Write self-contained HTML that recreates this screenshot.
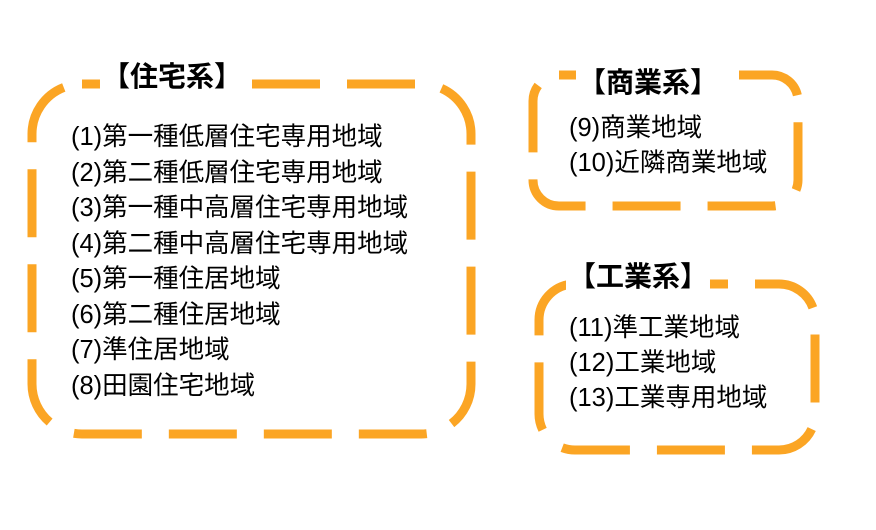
<!DOCTYPE html>
<html><head><meta charset="utf-8"><style>
html,body{margin:0;padding:0;background:#fff;}
body{width:876px;height:530px;position:relative;overflow:hidden;font-family:"Liberation Sans","Noto Sans CJK JP",sans-serif;color:#000;}
.t{position:absolute;font-size:25.5px;line-height:28px;white-space:nowrap;}
.h{position:absolute;font-size:28px;line-height:32px;font-weight:bold;white-space:nowrap;background:#fff;font-family:"Noto Sans CJK JP",sans-serif;padding:0 2px;transform:translateX(-50%);}
svg{position:absolute;left:0;top:0;}
</style></head><body>
<svg width="876" height="530">
<g fill="none" stroke="#FBA524" stroke-width="9" stroke-dasharray="68 27">
<rect x="32" y="84" width="439" height="350" rx="50" ry="50" stroke-dashoffset="20"/>
<rect x="533" y="75" width="265" height="131" rx="26" ry="26" stroke-dashoffset="10"/>
<rect x="539" y="284" width="276" height="166" rx="36" ry="36" stroke-dashoffset="10"/>
</g>
</svg>
<div class="h" style="left:172px;top:59px;">【住宅系】</div>
<div class="h" style="left:648px;top:65px;">【商業系】</div>
<div class="h" style="left:638px;top:259px;">【工業系】</div>

<div class="t" style="left:71px;top:123px;">(1)第一種低層住宅専用地域</div>
<div class="t" style="left:71px;top:159px;">(2)第二種低層住宅専用地域</div>
<div class="t" style="left:71px;top:194px;">(3)第一種中高層住宅専用地域</div>
<div class="t" style="left:71px;top:230px;">(4)第二種中高層住宅専用地域</div>
<div class="t" style="left:71px;top:265px;">(5)第一種住居地域</div>
<div class="t" style="left:71px;top:301px;">(6)第二種住居地域</div>
<div class="t" style="left:71px;top:336px;">(7)準住居地域</div>
<div class="t" style="left:71px;top:372px;">(8)田園住宅地域</div>

<div class="t" style="left:569px;top:114px;">(9)商業地域</div>
<div class="t" style="left:569px;top:149px;">(10)近隣商業地域</div>

<div class="t" style="left:569px;top:314px;">(11)準工業地域</div>
<div class="t" style="left:569px;top:349px;">(12)工業地域</div>
<div class="t" style="left:569px;top:384px;">(13)工業専用地域</div>
</body></html>
